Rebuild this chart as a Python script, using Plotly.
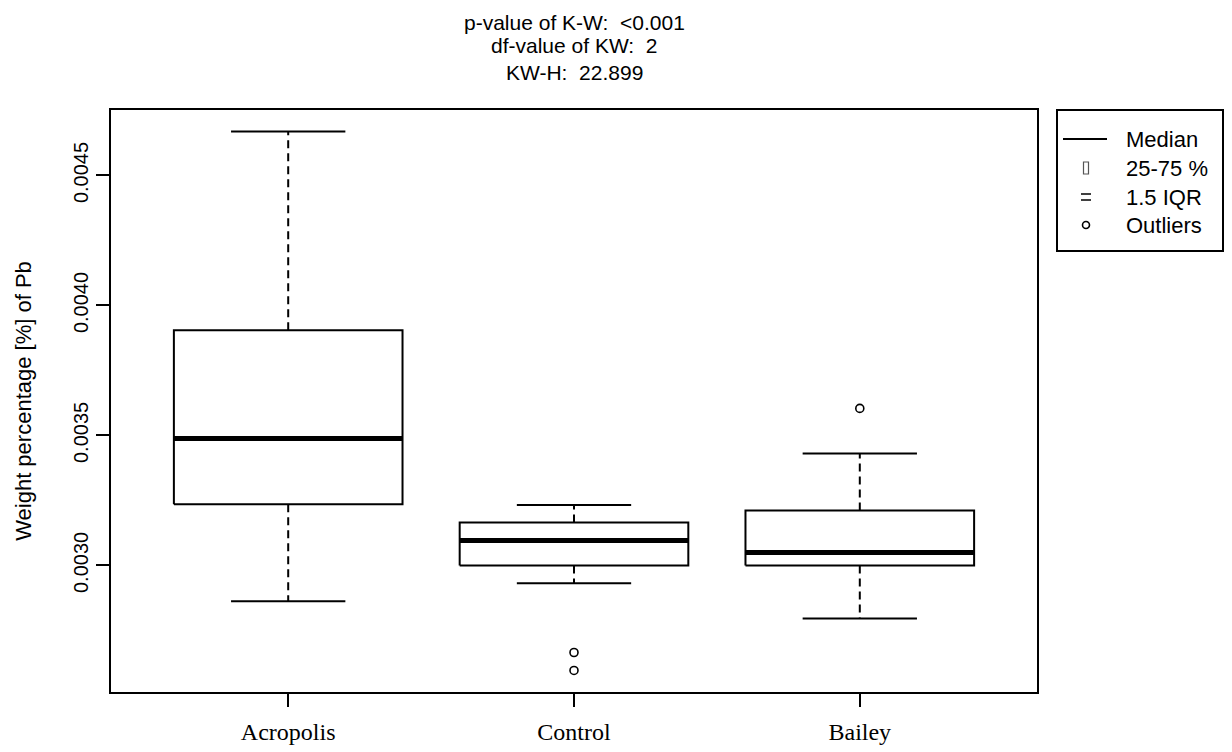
import plotly.graph_objects as go

# Lead (Pb) weight percentage by site: five-number summaries and outliers
categories = ["Acropolis", "Control", "Bailey"]
q1 = [0.003235, 0.003000, 0.003000]
median = [0.003488, 0.003096, 0.003050]
q3 = [0.003905, 0.003165, 0.003211]
lower_whisker = [0.002862, 0.002931, 0.002796]
upper_whisker = [0.004669, 0.003232, 0.003431]
outlier_group = ["Control", "Control", "Bailey"]
outlier_values = [0.002665, 0.002596, 0.003604]

title_lines = ["p-value of K-W:  <0.001", "df-value of KW:  2", "KW-H:  22.899"]
legend_labels = ["Median", "25-75 %", "1.5 IQR", "Outliers"]
y_ticks = [0.0030, 0.0035, 0.0040, 0.0045]

SANS = "Liberation Sans, Arial, sans-serif"
SERIF = "Liberation Serif, Times New Roman, serif"
BOX_HALF = 0.4
CAP_HALF = 0.2

fig = go.Figure()

for i, name in enumerate(categories):
    x = i + 1
    # box outline (Q1..Q3)
    fig.add_trace(go.Scatter(
        x=[x - BOX_HALF, x + BOX_HALF, x + BOX_HALF, x - BOX_HALF, x - BOX_HALF],
        y=[q1[i], q1[i], q3[i], q3[i], q1[i]],
        mode="lines", line=dict(color="black", width=2), hoverinfo="skip"))
    # whiskers (dashed)
    fig.add_trace(go.Scatter(
        x=[x, x, None, x, x],
        y=[q3[i], upper_whisker[i], None, q1[i], lower_whisker[i]],
        mode="lines", line=dict(color="black", width=2, dash="8px,5px"),
        hoverinfo="skip"))
    # whisker caps
    fig.add_trace(go.Scatter(
        x=[x - CAP_HALF, x + CAP_HALF, None, x - CAP_HALF, x + CAP_HALF],
        y=[upper_whisker[i], upper_whisker[i], None, lower_whisker[i], lower_whisker[i]],
        mode="lines", line=dict(color="black", width=2), hoverinfo="skip"))
    # median
    fig.add_trace(go.Scatter(
        x=[x - BOX_HALF, x + BOX_HALF], y=[median[i], median[i]],
        mode="lines", line=dict(color="black", width=5), hoverinfo="skip"))

# outliers
fig.add_trace(go.Scatter(
    x=[categories.index(g) + 1 for g in outlier_group], y=outlier_values,
    mode="markers",
    marker=dict(symbol="circle-open", size=8, color="black", line=dict(width=1.6)),
    hoverinfo="skip"))

# axis ranges with 4% padding on the data span
all_vals = lower_whisker + upper_whisker + outlier_values
lo, hi = min(all_vals), max(all_vals)
pad = 0.04 * (hi - lo)
y_range = [lo - pad, hi + pad]
n = len(categories)
x_range = [0.5 - 0.04 * n, n + 0.5 + 0.04 * n]

W, H = 1232, 752
ML, MR, MT, MB = 111, 195, 110, 60
plot_w = W - ML - MR
plot_h = H - MT - MB

def px_x(px):
    return (px - ML) / plot_w

def px_y(py):
    return (H - MB - py) / plot_h

fig.update_layout(
    width=W, height=H,
    margin=dict(l=ML, r=MR, t=MT, b=MB, pad=0, autoexpand=False),
    paper_bgcolor="white", plot_bgcolor="white",
    showlegend=False,
    xaxis=dict(
        range=x_range, tickvals=list(range(1, n + 1)), ticktext=categories,
        showgrid=False, zeroline=False, showline=True, mirror=True,
        linecolor="black", linewidth=2, automargin=False,
        ticks="outside", ticklen=13, tickwidth=2, tickcolor="black",
        ticklabelstandoff=4,
        tickfont=dict(family=SERIF, size=24, color="black"),
    ),
    yaxis=dict(
        range=y_range, tickvals=y_ticks,
        ticktext=[f"{v:.4f}" for v in y_ticks],
        showgrid=False, zeroline=False, showline=True, mirror=True,
        linecolor="black", linewidth=2, automargin=False,
        ticks="outside", ticklen=13, tickwidth=2, tickcolor="black",
        tickangle=-90,
        tickfont=dict(family=SANS, size=20, color="black"),
        title=dict(text="Weight percentage [%] of Pb",
                   font=dict(family=SANS, size=22, color="black"), standoff=32),
    ),
)

# three-line statistics header
for text, py in zip(title_lines, [22, 46, 72]):
    fig.add_annotation(
        text=text, xref="paper", yref="paper",
        x=0.5, y=px_y(py), xanchor="center", yanchor="middle",
        showarrow=False, font=dict(family=SANS, size=21, color="black"))

# legend box
fig.add_shape(type="rect", xref="paper", yref="paper",
              x0=px_x(1057), x1=px_x(1223), y0=px_y(110), y1=px_y(251),
              line=dict(color="black", width=2), fillcolor="white")
rows = [139, 168, 197, 225]
for label, py in zip(legend_labels, rows):
    fig.add_annotation(
        text=label, xref="paper", yref="paper",
        x=px_x(1124), y=px_y(py), xanchor="left", yanchor="middle",
        showarrow=False, font=dict(family=SANS, size=22, color="black"))

sym_x = 1086
# median symbol
fig.add_shape(type="line", xref="paper", yref="paper",
              x0=px_x(1063), x1=px_x(1107), y0=px_y(rows[0]), y1=px_y(rows[0]),
              line=dict(color="black", width=2))
# box symbol
fig.add_shape(type="rect", xref="paper", yref="paper",
              x0=px_x(sym_x - 2.5), x1=px_x(sym_x + 2.5),
              y0=px_y(rows[1] - 6), y1=px_y(rows[1] + 6),
              line=dict(color="#555555", width=1.2), fillcolor="white")
# whisker symbol
for dy in (-3, 3):
    fig.add_shape(type="line", xref="paper", yref="paper",
                  x0=px_x(sym_x - 5), x1=px_x(sym_x + 5),
                  y0=px_y(rows[2] + dy), y1=px_y(rows[2] + dy),
                  line=dict(color="black", width=1.5))
# outlier symbol
fig.add_shape(type="circle", xref="paper", yref="paper",
              x0=px_x(sym_x - 3.5), x1=px_x(sym_x + 3.5),
              y0=px_y(rows[3] - 3.5), y1=px_y(rows[3] + 3.5),
              line=dict(color="black", width=1.6))

fig.write_html("out.html")
